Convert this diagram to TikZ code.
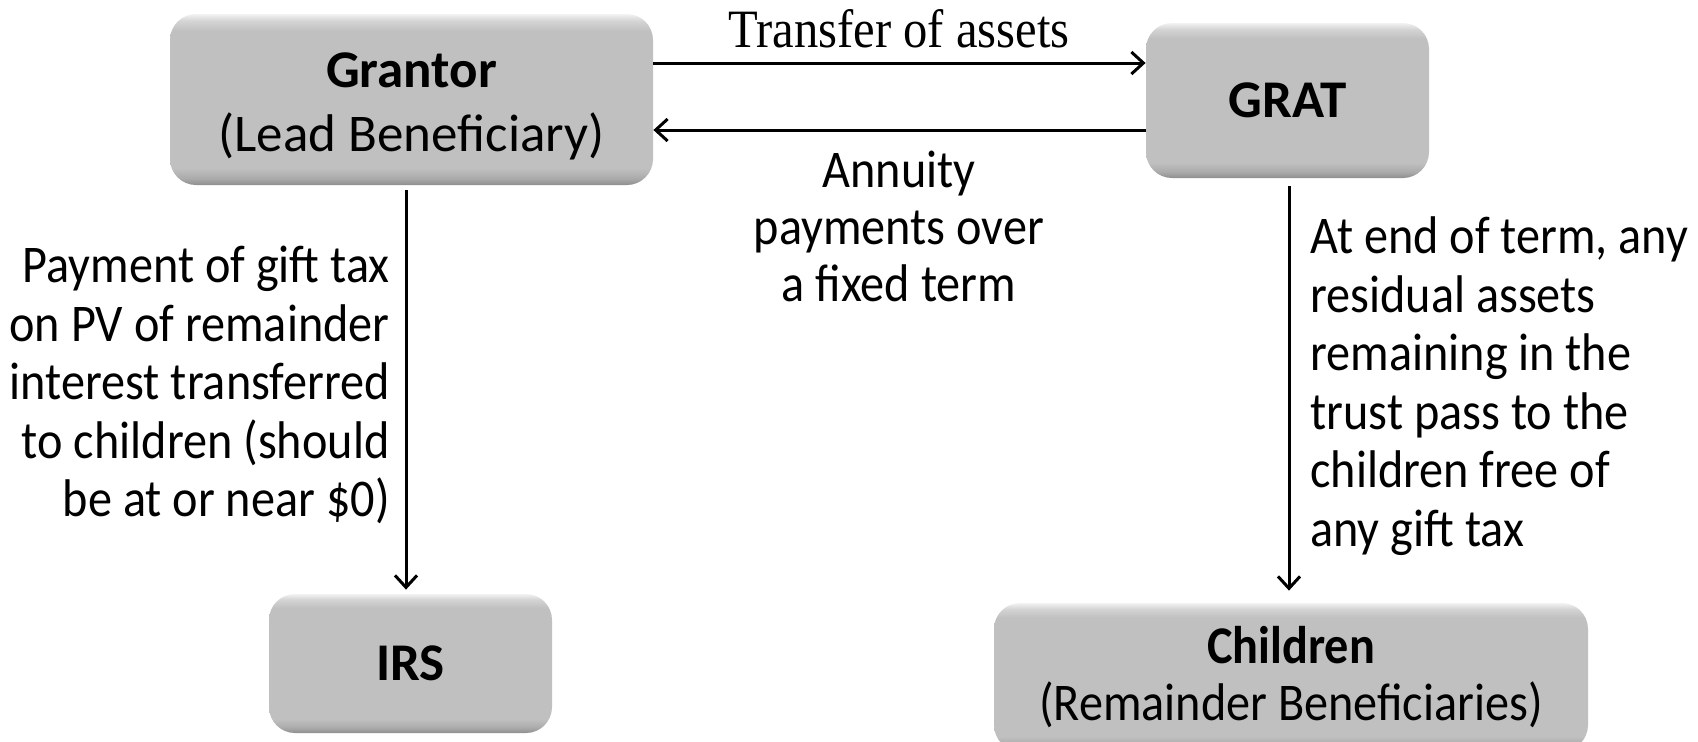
\documentclass[tikz,border=0pt]{standalone}
\usepackage{fontspec}
\setmainfont{Carlito}
\newfontfamily\narrowfont{Carlito}[FakeStretch=0.91]
\newfontfamily\tnr{Liberation Serif}[FakeStretch=0.90]
\usetikzlibrary{arrows.meta,calc}
\definecolor{bvA}{HTML}{8E8E8E}
\definecolor{bvB}{HTML}{ABABAB}
\definecolor{bvC}{HTML}{C0C0C0}
\definecolor{bvD}{HTML}{D4D4D4}
\definecolor{bvE}{HTML}{F2F2F2}
\pgfdeclareverticalshading{bevelshade}{100bp}{color(0bp)=(bvA); color(25bp)=(bvA); color(27bp)=(bvB); color(30bp)=(bvC); color(70bp)=(bvC); color(73bp)=(bvD); color(75bp)=(bvE); color(100bp)=(bvE)}
\tikzset{
  box/.style={rectangle, rounded corners=13pt, shade, shading=bevelshade, inner sep=0pt, align=center, font=\fontsize{26.5}{32}\selectfont},
  boxtext/.style={inner sep=0pt, align=center, font=\fontsize{26.5}{32}\selectfont},
  lbl/.style={inner sep=0pt, font=\narrowfont\fontsize{26.5}{29.25}\selectfont},
  arr/.style={line width=1.5pt, -{Straight Barb[length=6pt,width=11pt,line width=1.5pt]}}
}
\begin{document}
\begin{tikzpicture}[x=0.5pt,y=-0.5pt]
\useasboundingbox (0,0) rectangle (1698,741);
\node[box, minimum width=241.5pt, minimum height=85.5pt] (grantor) at (411.5,99.5) {};
\node[boxtext] (grantortxt) at (411.5,106) {\textbf{Grantor}\\(Lead Beneficiary)};
\node[box, minimum width=141.5pt, minimum height=77.5pt] (grat) at (1287.5,100.5) {\textbf{GRAT}};
\node[box, minimum width=141.5pt, minimum height=69.5pt] (irs) at (410.5,663.5) {\textbf{IRS}};
\node[box, minimum width=297pt, minimum height=74pt, font=\narrowfont\fontsize{26.5}{28.5}\selectfont] (children) at (1291,677) {\textbf{Children}\\(Remainder Beneficiaries)};
\coordinate (ya) at (0,63);
\coordinate (yb) at (0,130);
\coordinate (xl) at (406,0);
\coordinate (xr) at (1289,0);
\draw[arr] (grantor.east |- ya) -- (grat.west |- ya);
\draw[arr] (grat.west |- yb) -- (grantor.east |- yb);
\draw[arr] ([yshift=-2.5pt]grantor.south -| xl) -- ([yshift=2pt]irs.north -| xl);
\draw[arr] ([yshift=-4pt]grat.south -| xr) -- ([yshift=6pt]children.north -| xr);
\node[inner sep=0pt, font=\tnr\fontsize{27}{30}\selectfont] (tlab) at (899,29) {Transfer of assets};
\node[lbl, align=center, font=\narrowfont\fontsize{26.5}{28.5}\selectfont] (mlab) at (899,226) {Annuity\\payments over\\a fixed term};
\node[lbl, align=right, anchor=east] (llab) at (390,385) {Payment of gift tax\\on PV of remainder\\interest transferred\\to children (should\\be at or near \$0)};
\node[lbl, align=left, anchor=west] (rlab) at (1310,386) {At end of term, any\\residual assets\\remaining in the\\trust pass to the\\children free of\\any gift tax};
\end{tikzpicture}
\end{document}
